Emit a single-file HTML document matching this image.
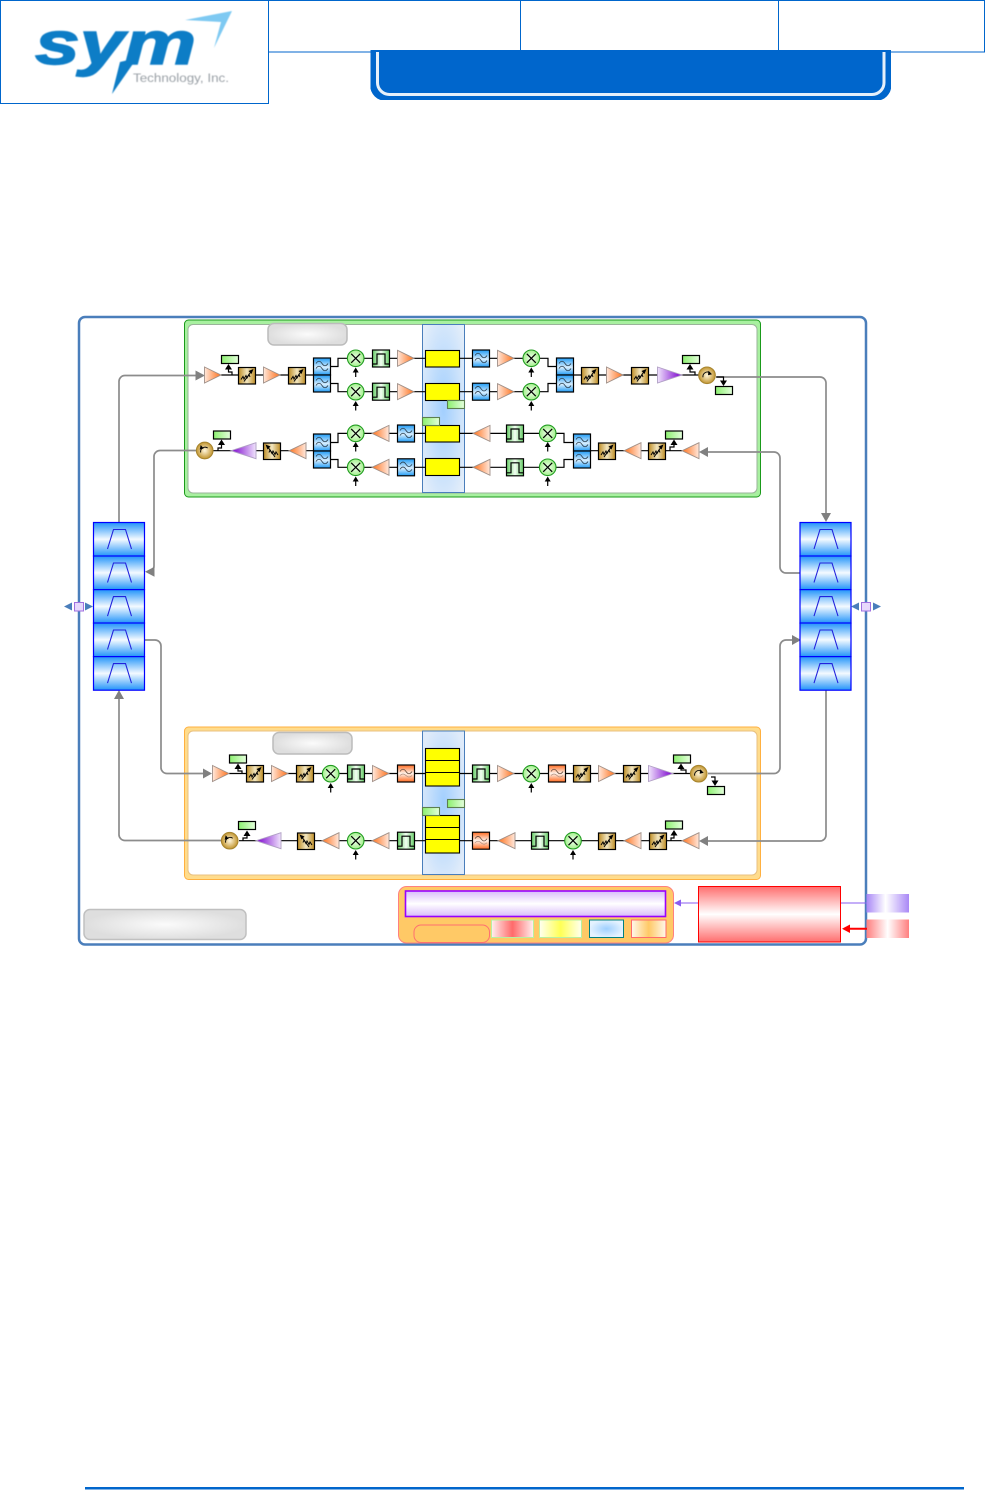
<!DOCTYPE html>
<html lang="en"><head><meta charset="utf-8"><title>System block diagram</title>
<style>html,body{margin:0;padding:0;background:#fff;width:985px;height:1490px;overflow:hidden}svg{display:block}</style>
</head><body>
<svg width="985" height="1490" viewBox="0 0 985 1490" xmlns="http://www.w3.org/2000/svg">
<defs>
<filter id="soft" x="-5%" y="-5%" width="110%" height="110%"><feGaussianBlur stdDeviation=".55"/></filter>
<linearGradient id="gAR"><stop offset="0" stop-color="#ffe8dc"/><stop offset=".85" stop-color="#ff8236"/></linearGradient>
<linearGradient id="gAL"><stop offset=".15" stop-color="#ff8236"/><stop offset="1" stop-color="#ffe8dc"/></linearGradient>
<linearGradient id="gPR"><stop offset="0" stop-color="#f0e4fc"/><stop offset=".85" stop-color="#8a1ed4"/></linearGradient>
<linearGradient id="gPL"><stop offset=".15" stop-color="#8a1ed4"/><stop offset="1" stop-color="#f0e4fc"/></linearGradient>
<linearGradient id="gAtt"><stop offset="0" stop-color="#bd8c24"/><stop offset=".5" stop-color="#f2e6c0"/><stop offset="1" stop-color="#bd8c24"/></linearGradient>
<linearGradient id="gFlt" x2="0" y2="1"><stop offset="0" stop-color="#1f9bf5"/><stop offset=".55" stop-color="#d8eeff"/><stop offset="1" stop-color="#1f9bf5"/></linearGradient>
<linearGradient id="gBp"><stop offset="0" stop-color="#66cc66"/><stop offset=".5" stop-color="#f2fff2"/><stop offset="1" stop-color="#66cc66"/></linearGradient>
<linearGradient id="gLpf" x2="0" y2="1"><stop offset="0" stop-color="#ff6a1f"/><stop offset=".5" stop-color="#fff4ec"/><stop offset="1" stop-color="#ff6a1f"/></linearGradient>
<radialGradient id="gMix"><stop offset="0" stop-color="#f2fff0"/><stop offset="1" stop-color="#a4f08c"/></radialGradient>
<radialGradient id="gCirc"><stop offset="0" stop-color="#fff6dc"/><stop offset="1" stop-color="#c2952f"/></radialGradient>
<linearGradient id="gTag"><stop offset="0" stop-color="#8cf070"/><stop offset="1" stop-color="#e4ffdc"/></linearGradient>
<linearGradient id="gStack" x2="0" y2="1"><stop offset="0" stop-color="#2294fa"/><stop offset=".5" stop-color="#f4faff"/><stop offset="1" stop-color="#2294fa"/></linearGradient>
<radialGradient id="gPanel" cx=".5" cy=".5" r=".65"><stop offset="0" stop-color="#a2cffe"/><stop offset="1" stop-color="#e4eefa"/></radialGradient>
<radialGradient id="gPanel2" cx=".5" cy=".5" r=".6"><stop offset="0" stop-color="#a2cffe"/><stop offset="1" stop-color="#dfebfa"/></radialGradient>
<radialGradient id="gPill"><stop offset="0" stop-color="#fbfbfb"/><stop offset="1" stop-color="#dedede"/></radialGradient>
<linearGradient id="gRed" x2="0" y2="1"><stop offset="0" stop-color="#ff6e6e"/><stop offset=".5" stop-color="#fff"/><stop offset="1" stop-color="#ff6e6e"/></linearGradient>
<linearGradient id="gPur" x2="0" y2="1"><stop offset="0" stop-color="#d8bcfa"/><stop offset=".5" stop-color="#fff"/><stop offset="1" stop-color="#d8bcfa"/></linearGradient>
<linearGradient id="gSwP"><stop offset="0" stop-color="#a988f6"/><stop offset=".45" stop-color="#fff"/><stop offset="1" stop-color="#a988f6"/></linearGradient>
<linearGradient id="gSwR"><stop offset="0" stop-color="#ff7f7f"/><stop offset=".5" stop-color="#fff"/><stop offset="1" stop-color="#ff7f7f"/></linearGradient>
<linearGradient id="gChR"><stop offset="0" stop-color="#fff0f0"/><stop offset=".5" stop-color="#ff6a6a"/><stop offset="1" stop-color="#fff0f0"/></linearGradient>
<linearGradient id="gChY"><stop offset="0" stop-color="#fffff0"/><stop offset=".5" stop-color="#ffff55"/><stop offset="1" stop-color="#fffff0"/></linearGradient>
<radialGradient id="gChB"><stop offset="0" stop-color="#9fd0ff"/><stop offset="1" stop-color="#e4f2ff"/></radialGradient>
<linearGradient id="gChO"><stop offset="0" stop-color="#fff8ec"/><stop offset=".5" stop-color="#ffc966"/><stop offset="1" stop-color="#fff8ec"/></linearGradient>

<g id="ampR"><path d="M.5-8L17 0 .5 8Z" fill="url(#gAR)" stroke="#a09088" stroke-width=".9"/></g>
<g id="ampL"><path d="M17-8L0 0 17 8Z" fill="url(#gAL)" stroke="#a09088" stroke-width=".9"/></g>
<g id="purR"><path d="M.5-8L25 0 .5 8Z" fill="url(#gPR)" stroke="#b0a0c4" stroke-width=".9"/></g>
<g id="purL"><path d="M25-8L0 0 25 8Z" fill="url(#gPL)" stroke="#b0a0c4" stroke-width=".9"/></g>
<g id="attR"><rect x=".5" y="-8" width="17" height="16.500" fill="url(#gAtt)" stroke="#000" stroke-width="1.200"/><path d="M3 4l2-3 1 2.500 2-3.500 1 2.500 2-3.500 1 2.500" fill="none" stroke="#000" stroke-width="1"/><path d="M6 6L13.500-4.500" stroke="#000" stroke-width="1"/><path d="M15.500-6.500L10.500-4.500 13.500-1.500Z"/></g>
<g id="attL"><rect x=".5" y="-8" width="17" height="16.500" fill="url(#gAtt)" stroke="#000" stroke-width="1.200"/><path d="M15 4l-2-3-1 2.500-2-3.500-1 2.500-2-3.500-1 2.500" fill="none" stroke="#000" stroke-width="1"/><path d="M12 6L4.500-4.500" stroke="#000" stroke-width="1"/><path d="M2.500-6.500L7.500-4.500 4.500-1.500Z"/></g>
<g id="flt"><rect x=".5" y="-8.500" width="17" height="17" fill="url(#gFlt)" stroke="#000" stroke-width="1.200"/><path d="M3-3c2-3 4-3 6 0s4 3 6 0M3 2c2-3 4-3 6 0s4 3 6 0" fill="none" stroke="#2d4050" stroke-width=".8"/></g>
<g id="lpf"><rect x=".5" y="-8.500" width="17" height="17" fill="url(#gLpf)" stroke="#000" stroke-width="1.200"/><path d="M3-2c2-3 4-3 6 0s4 3 6 0" fill="none" stroke="#6a5040" stroke-width=".8"/><path d="M3 2c2-2 4-2 6 0s4 2 6 0" fill="none" stroke="#b09080" stroke-width=".7"/></g>
<g id="bp"><rect x=".5" y="-8.500" width="17" height="17" fill="url(#gBp)" stroke="#000" stroke-width="1.200"/><path d="M1 5.500H5V-4.500H13V5.500H17" fill="none" stroke="#000" stroke-width="1.200"/></g>
<g id="mix"><circle r="8.300" fill="url(#gMix)" stroke="#229c22" stroke-width="1.100"/><path d="M-4.500-4.500L4.500 4.500M4.500-4.500L-4.500 4.500" stroke="#000" stroke-width="1.200"/></g>
<g id="circ"><circle r="8.300" fill="url(#gCirc)" stroke="#a88630" stroke-width="1.100"/><path d="M-4 2A4.500 4.500 0 0 1 3-2.500" fill="none" stroke="#000" stroke-width=".9"/></g>
<g id="circ1"><use href="#circ"/><path d="M5-1L1.500-4.500 1 0Z"/></g>
<g id="circ2"><use href="#circ"/><path d="M-5-1L-4-5.500-1-2Z"/></g>
<g id="tag"><rect x=".5" y=".5" width="17" height="8" fill="url(#gTag)" stroke="#000" stroke-width="1.200"/></g>
<g id="tagG"><rect x=".5" y=".5" width="17" height="8" fill="url(#gTag)" stroke="#5c7f50" stroke-width="1.100"/></g>
<g id="upa"><path d="M0 0L-3 5H3Z"/><path d="M0 4V9.500" stroke="#000" stroke-width="1.200"/></g>
<g id="cell"><rect x="0" y="0" width="51" height="33.600" fill="url(#gStack)" stroke="#0000ff" stroke-width="1.200"/><path d="M14 26.500L20 7H32L38 26.500" fill="none" stroke="#2222dd" stroke-width="1.100"/></g>
</defs>

<!-- header -->
<path d="M269 .5H984.500V52H269M520.500 .5V52M778.500 .5V52" fill="none" stroke="#0066cc" stroke-width="1"/>
<rect x=".5" y=".5" width="268" height="103" fill="#fff" stroke="#0066cc" stroke-width="1"/>
<rect x="370.500" y="50" width="520.500" height="50" fill="#0066cc"/>
<path d="M370 85V101H386A16 16 0 0 1 370 85ZM891.500 85V101H875.500A16 16 0 0 0 891.500 85Z" fill="#fff"/>
<path d="M377.500 52V82a12 12 0 0 0 12 12.500H872a12 12 0 0 0 12-12.500V52" fill="none" stroke="#fff" stroke-width="3" opacity=".9"/>
<!-- logo -->
<g filter="url(#soft)">
<text transform="translate(35 64) scale(1.22 .92)" font-family="Liberation Sans, sans-serif" font-weight="700" font-style="italic" font-size="66" fill="#0f7dc6" stroke="#0f7dc6" stroke-width="1.500">sym</text>
<path d="M120 62L137 58 112 94Z" fill="#0f7dc6"/>
<path d="M185 20L232 11 214 48 221 22Z" fill="#7ec9f2"/>
<text x="133" y="82" font-family="Liberation Sans, sans-serif" font-size="11.500" fill="#9aa0a6" textLength="96" lengthAdjust="spacingAndGlyphs">Technology, Inc.</text>
</g>

<!-- footer line -->
<rect x="85" y="1487" width="879" height="2.500" fill="#0066cc"/>

<!-- main container -->
<rect x="79" y="317" width="787" height="627.500" rx="6" fill="#fff" stroke="#4a7ebb" stroke-width="2.500"/>

<!-- green zone -->
<rect x="184.500" y="320" width="576" height="177" rx="4" fill="#a8f0a0" stroke="#1a9a1a" stroke-width="1"/>
<rect x="188" y="324.500" width="569" height="168.500" rx="5" fill="#fff" stroke="#9ab49a" stroke-width="1"/>
<!-- orange zone -->
<rect x="184.500" y="727" width="576" height="152.500" rx="4" fill="#ffdc8c" stroke="#ffb040" stroke-width="1"/>
<rect x="188" y="731" width="569" height="144" rx="5" fill="#fff" stroke="#e8c080" stroke-width="1"/>

<!-- pills -->
<rect x="268" y="323.500" width="79" height="21.500" rx="6" fill="url(#gPill)" stroke="#bcbcbc" stroke-width="1.500"/>
<rect x="273" y="732.500" width="79" height="21.500" rx="6" fill="url(#gPill)" stroke="#bcbcbc" stroke-width="1.500"/>
<rect x="84" y="909.500" width="162" height="30" rx="6" fill="url(#gPill)" stroke="#c0c0c0" stroke-width="1.500"/>

<!-- blue panels -->
<rect x="422.500" y="324.500" width="42" height="168" fill="url(#gPanel)" stroke="#4a7ebb" stroke-width="1"/>
<rect x="422.500" y="731" width="42" height="143.500" fill="url(#gPanel2)" stroke="#4a7ebb" stroke-width="1"/>

<!-- gray connectors -->
<g fill="none" stroke="#8c8c8c" stroke-width="1.700">
<path d="M119 522V382a6 6 0 0 1 6-6.500H197"/>
<path d="M150 572H148a6 6 0 0 0 6-6V456a6 6 0 0 1 6-5.500H197"/>
<path d="M145 640H155a6 6 0 0 1 6 6V767a6 6 0 0 0 6 6.500H205"/>
<path d="M119 696V834a6 6 0 0 0 6 6.500H222"/>
<path d="M717 377H820a6 6 0 0 1 6 6V515"/>
<path d="M800 573H786a6 6 0 0 1-6-6V458a6 6 0 0 0-6-6H705"/>
<path d="M708 773.500H774a6 6 0 0 0 6-6V646a6 6 0 0 1 6-6H793"/>
<path d="M826 690V835a6 6 0 0 1-6 6H705"/>
</g>
<g fill="#808080">
<path d="M205 375.500L195.500 370.500V380.500Z"/>
<path d="M145 571.700L154.500 566.700V576.700Z"/>
<path d="M212 773.500L203 768.500V778.500Z"/>
<path d="M119 690L114 699H124Z"/>
<path d="M826 522L821 513H831Z"/>
<path d="M699 452L708 447V457Z"/>
<path d="M801 640L792 635V645Z"/>
<path d="M699 841L708 836V846Z"/>
</g>

<!-- black signal lines -->
<g fill="none" stroke="#000" stroke-width="1.200">
<path d="M221 375H313M331 366.500H338V358.300H347M331 383.500H338V391.700H347M364 358.300H425M364 391.700H425M460 358.300H472M460 391.700H472M490 358.300H523M490 391.700H523M540 358.300H548V366.500H556M540 391.700H548V383.500H556M574 375H700"/>
<path d="M213 450.700H313M331 442.500H338V433.400H347M331 459.500H338V467.300H347M364 433.400H425M364 467.300H425M460 433.400H539M460 467.300H539M556 433.400H564V442.500H573M556 467.300H564V459.500H573M591 450.700H682"/>
<path d="M229 773.500H425M460 773.500H690"/>
<path d="M239 840.700H425M460 840.700H682"/>
<path d="M232 375V372H228.500V369M695 375V372H690V369M221.500 444V448H218V450.700M674 443V447H670V450.700"/>
<path d="M242 773.500V771H238V767M686 773V770H681V767M243 840.700V838H247V834M671 840.700V838H674V833"/>
<path d="M716 377H723.500V381M711 777H715V781"/>
</g>

<!-- green-zone elements -->
<use href="#ampR" x="204" y="375"/><use href="#attR" x="238" y="375.500"/><use href="#ampR" x="263" y="375"/><use href="#attR" x="288" y="375.500"/>
<use href="#flt" x="313" y="366.500"/><use href="#flt" x="313" y="383.500"/>
<use href="#mix" x="355.700" y="358.300"/><use href="#mix" x="355.700" y="391.700"/>
<use href="#bp" x="372" y="358.500"/><use href="#bp" x="372" y="391.700"/>
<use href="#ampR" x="397" y="358.300"/><use href="#ampR" x="397" y="391.700"/>
<use href="#flt" x="472" y="358.500"/><use href="#flt" x="472" y="391.700"/>
<use href="#ampR" x="497" y="358.300"/><use href="#ampR" x="497" y="391.700"/>
<use href="#mix" x="531.300" y="358.300"/><use href="#mix" x="531.300" y="391.700"/>
<use href="#flt" x="556" y="366.500"/><use href="#flt" x="556" y="383.500"/>
<use href="#attR" x="581" y="375.500"/><use href="#ampR" x="606" y="375"/><use href="#attR" x="631" y="375.500"/><use href="#purR" x="657" y="375"/>
<use href="#circ1" x="707" y="375.300"/>

<use href="#circ2" x="204.700" y="450.500"/><use href="#purL" x="231" y="450.700"/><use href="#attL" x="263" y="451"/><use href="#ampL" x="289" y="450.700"/>
<use href="#flt" x="313" y="442.500"/><use href="#flt" x="313" y="459.500"/>
<use href="#mix" x="355.700" y="433.400"/><use href="#mix" x="355.700" y="467.300"/>
<use href="#ampL" x="372" y="433.400"/><use href="#ampL" x="372" y="467.300"/>
<use href="#flt" x="397" y="433.500"/><use href="#flt" x="397" y="467.300"/>
<use href="#ampL" x="473" y="433.400"/><use href="#ampL" x="473" y="467.300"/>
<use href="#bp" x="506" y="433.500"/><use href="#bp" x="506" y="467.300"/>
<use href="#mix" x="547.700" y="433.400"/><use href="#mix" x="547.700" y="467.300"/>
<use href="#flt" x="573" y="442.500"/><use href="#flt" x="573" y="459.500"/>
<use href="#attR" x="598" y="451"/><use href="#ampL" x="624" y="450.700"/><use href="#attR" x="648" y="451"/><use href="#ampL" x="682" y="450.700"/>

<!-- orange-zone elements -->
<use href="#ampR" x="212" y="773.500"/><use href="#attR" x="246" y="773.500"/><use href="#ampR" x="271" y="773.500"/><use href="#attR" x="296" y="773.500"/>
<use href="#mix" x="330.700" y="773.700"/><use href="#bp" x="347" y="773.500"/><use href="#ampR" x="372" y="773.500"/><use href="#lpf" x="397" y="773.500"/>
<use href="#bp" x="472" y="773.500"/><use href="#ampR" x="497" y="773.500"/><use href="#mix" x="531.300" y="773.700"/><use href="#lpf" x="548" y="773.500"/>
<use href="#attR" x="573" y="773.500"/><use href="#ampR" x="598" y="773.500"/><use href="#attR" x="623" y="773.500"/><use href="#purR" x="648" y="773.500"/>
<use href="#circ1" x="698.700" y="773.700"/>

<use href="#circ2" x="229.700" y="840.700"/><use href="#purL" x="256" y="840.700"/><use href="#attL" x="297" y="841"/><use href="#ampL" x="322" y="840.700"/>
<use href="#mix" x="355.700" y="840.700"/><use href="#ampL" x="372" y="840.700"/><use href="#bp" x="397" y="840.700"/>
<use href="#lpf" x="472" y="840.700"/><use href="#ampL" x="498" y="840.700"/><use href="#bp" x="531" y="840.700"/><use href="#mix" x="573" y="840.700"/>
<use href="#attR" x="598" y="841"/><use href="#ampL" x="624" y="840.700"/><use href="#attR" x="649" y="841"/><use href="#ampL" x="682" y="840.700"/>

<!-- yellow blocks -->
<g fill="#ffff00" stroke="#000" stroke-width="1.100">
<rect x="425.500" y="350.500" width="34" height="16.500"/>
<rect x="425.500" y="383.500" width="34" height="17"/>
<rect x="425.500" y="425.500" width="34" height="16.500"/>
<rect x="425.500" y="458.500" width="34" height="17"/>
<rect x="425.500" y="748.500" width="34" height="37.500"/>
<rect x="425.500" y="815.500" width="34" height="37.500"/>
<path d="M425.500 760.500H459.500M425.500 772.500H459.500M425.500 827.500H459.500M425.500 839.500H459.500" fill="none"/>
</g>

<!-- tags -->
<use href="#tag" x="221" y="355"/><use href="#tag" x="682" y="355"/><use href="#tag" x="715" y="386"/>
<use href="#tagG" x="447" y="400"/><use href="#tagG" x="422" y="417"/>
<use href="#tag" x="213" y="430.500"/><use href="#tag" x="665" y="430.500"/>
<use href="#tag" x="229" y="754.500"/><use href="#tag" x="673" y="754.500"/><use href="#tag" x="707" y="786"/>
<use href="#tagG" x="447" y="799"/><use href="#tagG" x="422" y="807"/>
<use href="#tag" x="238" y="821"/><use href="#tag" x="665" y="820.500"/>

<!-- control arrows -->
<g>
<use href="#upa" x="355.700" y="367.500"/><use href="#upa" x="355.700" y="401"/><use href="#upa" x="355.700" y="442"/><use href="#upa" x="355.700" y="476.500"/>
<use href="#upa" x="531.300" y="367.500"/><use href="#upa" x="531.300" y="401"/><use href="#upa" x="547.700" y="442"/><use href="#upa" x="547.700" y="476.500"/>
<use href="#upa" x="330.700" y="783"/><use href="#upa" x="531.300" y="783"/><use href="#upa" x="355.700" y="850"/><use href="#upa" x="573" y="850"/>
</g>
<g>
<path d="M228.500 364L225 369.500H232ZM690 364L686.500 369.500H693.500ZM221.500 439.500L218 445H225ZM674 439.500L670.500 445H677.500ZM238 763.500L234.500 769H241.500ZM681 763.500L677.500 769H684.500ZM247 830.500L243.500 836H250.500ZM674 830L670.500 835.500H677.500ZM723.500 386L720 380.500H727ZM715 786L711.500 780.500H718.500Z"/>
</g>

<!-- filter stacks -->
<use href="#cell" x="93.500" y="522.500"/><use href="#cell" x="93.500" y="556"/><use href="#cell" x="93.500" y="589.600"/><use href="#cell" x="93.500" y="623"/><use href="#cell" x="93.500" y="656.600"/>
<use href="#cell" x="800" y="522.500"/><use href="#cell" x="800" y="556"/><use href="#cell" x="800" y="589.600"/><use href="#cell" x="800" y="623"/><use href="#cell" x="800" y="656.600"/>

<!-- ports -->
<g fill="#4a7ebb">
<path d="M64 606.500L72 602.500V610.500Z"/><path d="M93 606.500L85 602.500V610.500Z"/>
<path d="M851 606.500L859 602.500V610.500Z"/><path d="M881 606.500L873 602.500V610.500Z"/>
</g>
<rect x="74.500" y="602.500" width="9" height="8.500" fill="#e8d8fc" stroke="#a070e0" stroke-width="1"/>
<rect x="861.500" y="602.500" width="9" height="8.500" fill="#e8d8fc" stroke="#a070e0" stroke-width="1"/>

<!-- bottom controller -->
<rect x="398.500" y="886.500" width="275" height="56.500" rx="8" fill="#ffc966" stroke="#ff8080" stroke-width="1"/>
<rect x="405.500" y="891" width="260" height="25.500" fill="url(#gPur)" stroke="#9900ff" stroke-width="1.600"/>
<rect x="414" y="925" width="75.500" height="17.500" rx="7" fill="#ffc966" stroke="#ff7070" stroke-width="1"/>
<rect x="491.500" y="920" width="42" height="17.500" fill="url(#gChR)" stroke="#b8f0a0" stroke-width="1"/>
<rect x="539.500" y="920" width="42" height="17.500" fill="url(#gChY)" stroke="#b8f0a0" stroke-width="1"/>
<rect x="589.500" y="920" width="34" height="17.500" fill="url(#gChB)" stroke="#008080" stroke-width="1"/>
<rect x="631.500" y="920" width="34.500" height="17.500" fill="url(#gChO)" stroke="#ff6a6a" stroke-width="1"/>

<rect x="698.500" y="886.500" width="142" height="55.500" fill="url(#gRed)" stroke="#ff0000" stroke-width="1"/>
<path d="M680 903H698M841 903H867" stroke="#8a5cf0" stroke-width="1"/>
<path d="M674 903L681 899.500V906.500Z" fill="#8a5cf0"/>
<rect x="866.500" y="894" width="42.500" height="18.500" fill="url(#gSwP)"/>
<rect x="866.500" y="919.500" width="42.500" height="18.500" fill="url(#gSwR)"/>
<path d="M848 928.700H867" stroke="#ff0000" stroke-width="2"/>
<path d="M842 928.700L850 924.500V933Z" fill="#ff0000"/>
</svg>
</body></html>
